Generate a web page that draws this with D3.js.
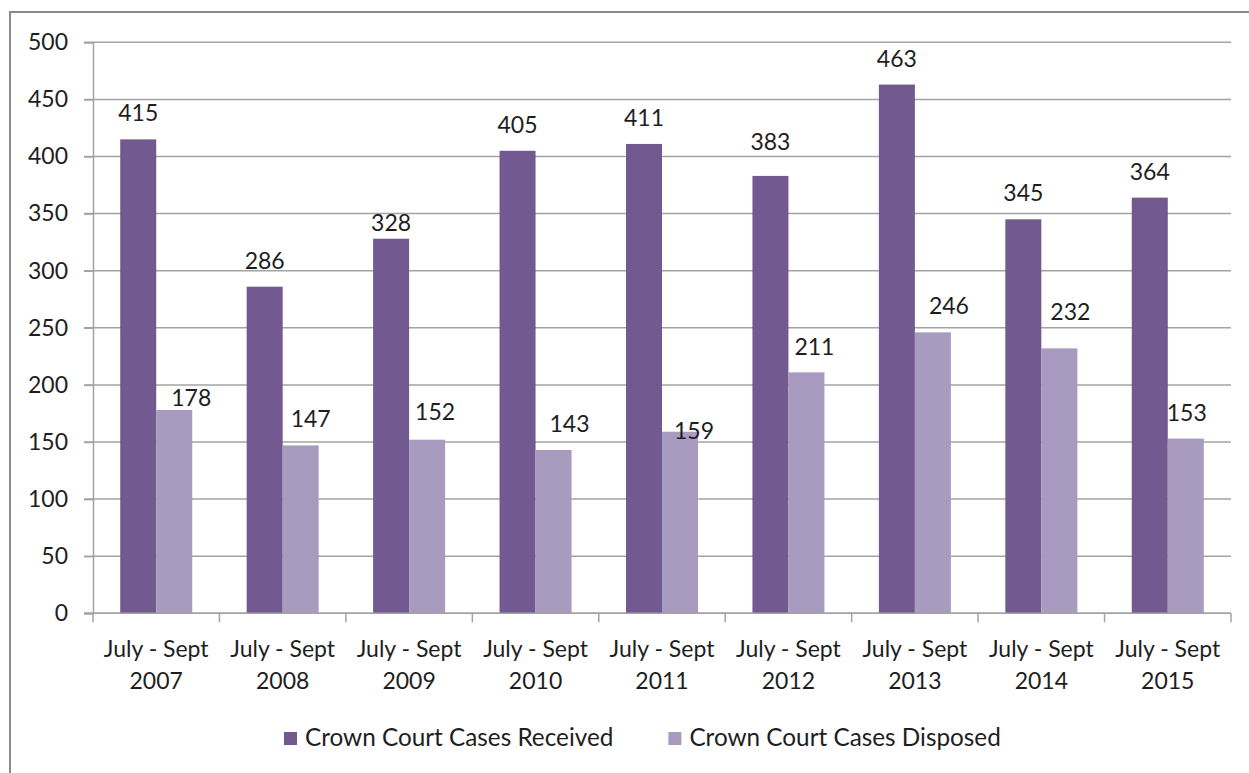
<!DOCTYPE html>
<html>
<head>
<meta charset="utf-8">
<script src="https://cdn.jsdelivr.net/npm/d3@7"></script>
<style>
  html, body { margin: 0; padding: 0; background: #fff; }
  svg { display: block; font-family: Lato, "Open Sans", sans-serif; }
</style>
</head>
<body>
<svg id="chart" width="1249" height="773"></svg>
<script>
// ---- data ----
const categories = ["July - Sept 2007", "July - Sept 2008", "July - Sept 2009", "July - Sept 2010",
  "July - Sept 2011", "July - Sept 2012", "July - Sept 2013", "July - Sept 2014", "July - Sept 2015"];
const seriesNames = ["Crown Court Cases Received", "Crown Court Cases Disposed"];
const received = [415, 286, 328, 405, 411, 383, 463, 345, 364];
const disposed = [178, 147, 152, 143, 159, 211, 246, 232, 153];
const yTicks = [0, 50, 100, 150, 200, 250, 300, 350, 400, 450, 500];

// ---- styling / layout constants ----
const colors = ["#725a90", "#a99bbf"];
const plot = { left: 93, right: 1231, top: 42.3, bottom: 613.3 };
const fontSize = 23;
const legendFontSize = 24.3;
const textColor = "#1e1e1e";
const gridColor = "#a3a3a3";
// manual label nudges (dx, dy) as in the original chart
const nudgeReceived = [[0,0],[0,0],[0,10],[0,0],[0,0],[0,-8],[0,0],[0,0],[0,0]];
const nudgeDisposed = [[17,14],[10,0],[8,-2],[16,0],[14,25],[8,1],[16,0],[11,-10],[1,0]];

const svg = d3.select("#chart");

// frame
svg.append("path")
  .attr("d", "M10,773 L10,12 L1249,12")
  .attr("fill", "none").attr("stroke", "#8a8a8a").attr("stroke-width", 2);

const x0 = d3.scaleBand().domain(categories).range([plot.left, plot.right]).padding(0);
const x1 = d3.scaleBand().domain(seriesNames).range([0, x0.bandwidth()])
  .paddingInner(0).paddingOuter(0.756);
const y = d3.scaleLinear().domain([0, 500]).range([plot.bottom, plot.top]);

// gridlines
svg.append("g").selectAll("line").data(yTicks).join("line")
  .attr("x1", plot.left - 9).attr("x2", plot.right)
  .attr("y1", d => y(d)).attr("y2", d => y(d))
  .attr("stroke", gridColor).attr("stroke-width", 1.5);

// y axis
const yAxis = svg.append("g").attr("transform", `translate(${plot.left},0)`)
  .call(d3.axisLeft(y).tickValues(yTicks).tickSize(9).tickPadding(16));
yAxis.select(".domain").attr("stroke", gridColor).attr("stroke-width", 1.5);
yAxis.selectAll(".tick line").attr("stroke", gridColor).attr("stroke-width", 1.5);
yAxis.selectAll(".tick text").attr("font-size", fontSize).attr("fill", textColor)
  .attr("font-family", "Lato, sans-serif");

// bars
const series = [received, disposed];
const groups = svg.append("g").selectAll("g").data(seriesNames).join("g")
  .attr("fill", (d, i) => colors[i]);
groups.selectAll("rect").data((s, si) => series[si].map((v, ci) => ({ v, c: categories[ci], s })))
  .join("rect")
  .attr("x", d => x0(d.c) + x1(d.s))
  .attr("width", x1.bandwidth())
  .attr("y", d => y(d.v))
  .attr("height", d => y(0) - y(d.v));

// x axis line + boundary ticks
svg.append("line").attr("x1", plot.left - 9).attr("x2", plot.right)
  .attr("y1", y(0)).attr("y2", y(0)).attr("stroke", gridColor).attr("stroke-width", 1.5);
const bounds = categories.map(c => x0(c)).concat([x0(categories[categories.length - 1]) + x0.bandwidth()]);
svg.append("g").selectAll("line").data(bounds).join("line")
  .attr("x1", d => d).attr("x2", d => d)
  .attr("y1", y(0)).attr("y2", y(0) + 9)
  .attr("stroke", gridColor).attr("stroke-width", 1.5);

// x labels (two lines)
const xl = svg.append("g").selectAll("text").data(categories).join("text")
  .attr("text-anchor", "middle").attr("font-size", fontSize).attr("fill", textColor)
  .attr("x", d => x0(d) + x0.bandwidth() / 2);
xl.append("tspan").attr("x", d => x0(d) + x0.bandwidth() / 2).attr("y", 657)
  .text(d => d.replace(/\s+\S+$/, ""));
xl.append("tspan").attr("x", d => x0(d) + x0.bandwidth() / 2).attr("y", 689)
  .text(d => d.match(/\S+$/)[0]);

// value labels
const labelGap = 18;
[received, disposed].forEach((arr, si) => {
  const nudge = si === 0 ? nudgeReceived : nudgeDisposed;
  svg.append("g").selectAll("text").data(arr).join("text")
    .attr("text-anchor", "middle").attr("font-size", fontSize).attr("fill", textColor)
    .attr("x", (v, i) => x0(categories[i]) + x1(seriesNames[si]) + x1.bandwidth() / 2 + nudge[i][0])
    .attr("y", (v, i) => y(v) - labelGap + nudge[i][1])
    .text(v => v);
});

// legend
const legend = svg.append("g");
const items = legend.selectAll("g").data(seriesNames).join("g");
items.append("rect").attr("width", 13).attr("height", 13).attr("y", 732)
  .attr("fill", (d, i) => colors[i]);
items.append("text").attr("x", 21).attr("y", 746).attr("font-size", legendFontSize)
  .attr("fill", textColor).text(d => d);
let widths = [];
items.each(function() { widths.push(d3.select(this).select("text").node().getComputedTextLength()); });
const gapBetween = 55;
let cx = 284;
items.attr("transform", (d, i) => {
  const t = `translate(${cx},0)`;
  cx += 21 + widths[i] + gapBetween;
  return t;
});
</script>
</body>
</html>
